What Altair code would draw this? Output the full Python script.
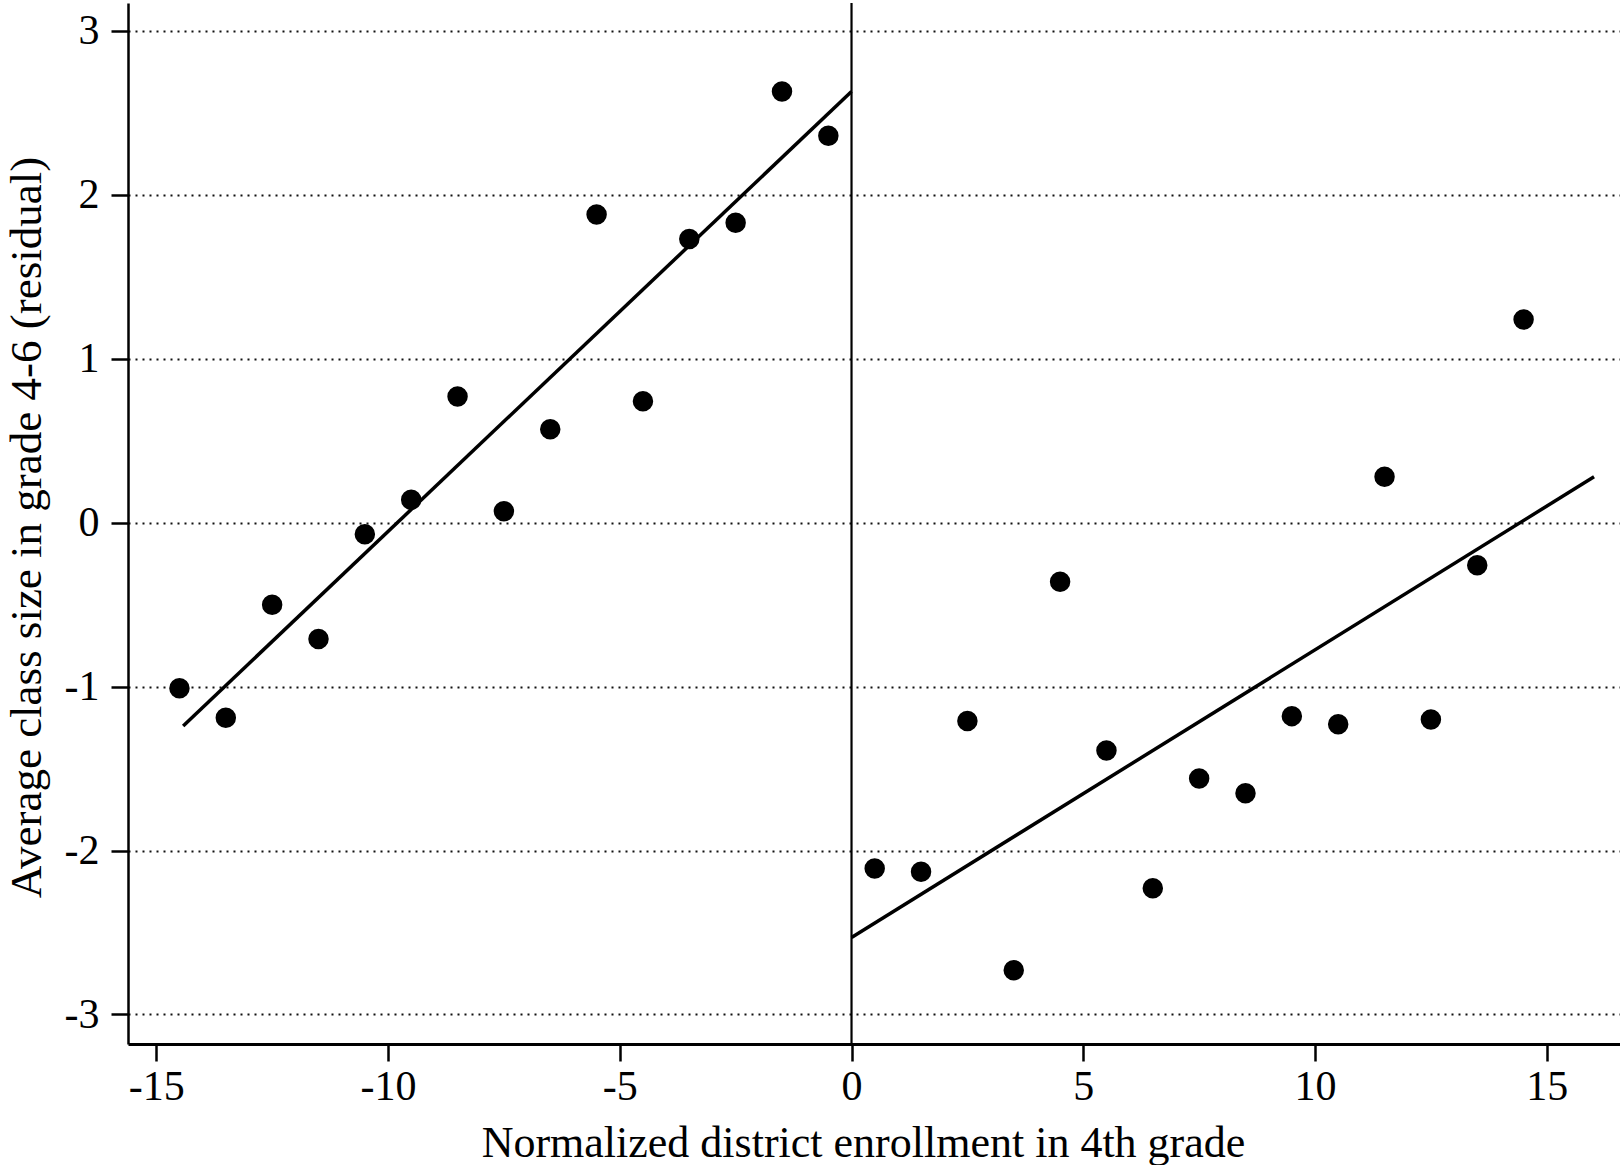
import altair as alt
import pandas as pd

# ---- data ----
left_x = [-14.5, -13.5, -12.5, -11.5, -10.5, -9.5, -8.5, -7.5, -6.5, -5.5, -4.5, -3.5, -2.5, -1.5, -0.5]
left_y = [-1.01, -1.19, -0.50, -0.71, -0.07, 0.14, 0.77, 0.07, 0.57, 1.88, 0.74, 1.73, 1.83, 2.63, 2.36]
right_x = [0.5, 1.5, 2.5, 3.5, 4.5, 5.5, 6.5, 7.5, 8.5, 9.5, 10.5, 11.5, 12.5, 13.5, 14.5]
right_y = [-2.11, -2.13, -1.21, -2.73, -0.36, -1.39, -2.23, -1.56, -1.65, -1.18, -1.23, 0.28, -1.20, -0.26, 1.24]

fit_left_x = [-14.42, 0.0]
fit_left_y = [-1.24, 2.63]
fit_right_x = [0.0, 16.02]
fit_right_y = [-2.53, 0.28]

x_ticks = [-15, -10, -5, 0, 5, 10, 15]
y_ticks = [-3, -2, -1, 0, 1, 2, 3]

x_title = "Normalized district enrollment in 4th grade"
y_title = "Average class size in grade 4-6 (residual)"

FONT = "Liberation Serif"
LABEL_EXPR = "datum.value < 0 ? '-' + abs(datum.value) : '' + datum.value"

pts = pd.DataFrame({
    "x": left_x + right_x,
    "y": left_y + right_y,
})
fits = pd.DataFrame({
    "x": fit_left_x + fit_right_x,
    "y": fit_left_y + fit_right_y,
    "side": ["left"] * len(fit_left_x) + ["right"] * len(fit_right_x),
})

xscale = alt.Scale(domain=[-15.61, 16.58], nice=False, zero=False)
yscale = alt.Scale(domain=[-3.18, 3.17], nice=False, zero=False)

xaxis = alt.Axis(
    values=x_ticks, title=x_title, grid=False, labelExpr=LABEL_EXPR,
    labelFont=FONT, labelFontSize=42, labelColor="black", labelPadding=5,
    tickSize=17, tickWidth=2.5, tickColor="black",
    domainColor="black", domainWidth=3,
    titleFont=FONT, titleFontSize=44, titleFontWeight="normal", titleColor="black",
    titleX=735, titlePadding=14, labelFlush=False,
)
yaxis = alt.Axis(
    values=y_ticks, title=y_title, grid=True, labelExpr=LABEL_EXPR,
    gridDash=[2, 5], gridColor="#111111", gridWidth=2,
    labelFont=FONT, labelFontSize=42, labelColor="black", labelPadding=12,
    tickSize=17, tickWidth=2.5, tickColor="black",
    domainColor="black", domainWidth=2.5,
    titleFont=FONT, titleFontSize=45, titleFontWeight="normal", titleColor="black",
    titleX=-102, titleY=524, titleAngle=270, titleAlign="center", titleBaseline="middle",
    labelFlush=False,
)

points = alt.Chart(pts).mark_circle(size=420, color="black", opacity=1).encode(
    x=alt.X("x:Q", scale=xscale, axis=xaxis),
    y=alt.Y("y:Q", scale=yscale, axis=yaxis),
)

lines = alt.Chart(fits).mark_line(color="black", strokeWidth=3.5).encode(
    x=alt.X("x:Q", scale=xscale),
    y=alt.Y("y:Q", scale=yscale),
    detail="side:N",
)

zero_rule = alt.Chart(pd.DataFrame({"x": [0]})).mark_rule(color="black", strokeWidth=2.2).encode(
    x=alt.X("x:Q", scale=xscale),
)

chart = alt.layer(zero_rule, lines, points).properties(
    width=1492, height=1041,
    autosize=alt.AutoSizeParams(type="none"),
    padding={"left": 128, "top": 3, "right": 0, "bottom": 121},
    background="white",
).configure_view(stroke=None)

chart.save("out.html", embed_options={"renderer": "svg", "actions": False})
